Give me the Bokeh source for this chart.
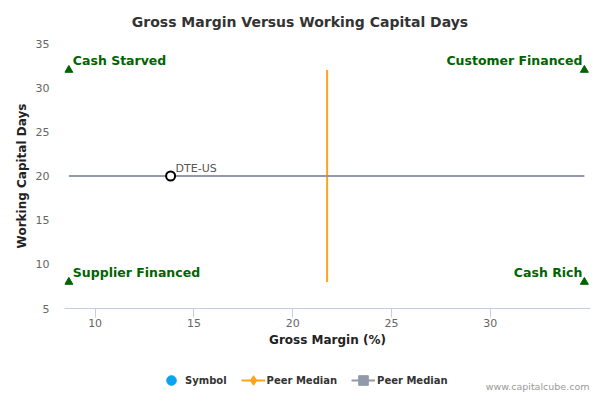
from bokeh.plotting import figure
from bokeh.layouts import column
from bokeh.models import (ColumnDataSource, Range1d, Legend, LegendItem, Label,
                          FixedTicker)
from bokeh.core.properties import value
from bokeh.embed import file_html
from bokeh.resources import INLINE

# ---- data ----
title_text = "Gross Margin Versus Working Capital Days"
x_title = "Gross Margin (%)"
y_title = "Working Capital Days"
quad_labels = ["Cash Starved", "Customer Financed", "Supplier Financed", "Cash Rich"]
quad_x = [8.67, 34.76, 8.67, 34.76]
quad_y = [32, 32, 8, 8]
symbol_names = ["DTE-US"]
symbol_gm = [13.82]
symbol_wcd = [20.0]
peer_median_gm = 21.74
peer_median_wcd = 20.0
x_ticks = [10, 15, 20, 25, 30]
y_ticks = [5, 10, 15, 20, 25, 30, 35]
x_limits = (8.45, 35.07)
y_limits = (5, 35)
legend_labels = ["Symbol", "Peer Median", "Peer Median"]
credit = "www.capitalcube.com"

FONT = "DejaVu Sans"
GREEN = "#006400"
ORANGE = "#ffa31a"
GREY = "#9299a8"
BLUE = "#0ba2f0"

W = 592


def blank_figure(height):
    fig = figure(width=W, height=height, output_backend="svg", toolbar_location=None,
                 title=None, x_range=Range1d(-2, -1), y_range=Range1d(-2, -1),
                 min_border_left=64, min_border_right=2, min_border_top=0,
                 min_border_bottom=0, outline_line_color=None)
    fig.axis.visible = False
    fig.grid.visible = False
    fig.background_fill_color = "white"
    fig.border_fill_color = "white"
    return fig


# ---- header with title ----
h = blank_figure(30)
h.add_layout(Label(x=235.5, y=8.3, x_units="screen", y_units="screen", text=title_text,
                   text_align="center", text_baseline="alphabetic",
                   text_font=FONT, text_font_size="14px", text_font_style="bold",
                   text_color="#333333"))

# ---- main plot ----
p = figure(width=W, height=325, output_backend="svg", toolbar_location=None,
           title=None, x_range=Range1d(*x_limits), y_range=Range1d(*y_limits),
           min_border_left=64, min_border_right=2, min_border_top=13,
           min_border_bottom=47, outline_line_color=None)
p.background_fill_color = "white"
p.border_fill_color = "white"
p.grid.visible = False

# x axis
xa = p.xaxis[0]
xa.ticker = FixedTicker(ticks=x_ticks)
xa.axis_line_color = "#c0d0e0"
xa.major_tick_line_color = "#c0d0e0"
xa.major_tick_out = 9
xa.major_tick_in = 0
xa.minor_tick_line_color = None
xa.major_label_text_font = FONT
xa.major_label_text_font_size = "11px"
xa.major_label_text_color = "#666666"
xa.major_label_standoff = 1
xa.axis_label = x_title
xa.axis_label_text_font = FONT
xa.axis_label_text_font_size = "12px"
xa.axis_label_text_font_style = "bold"
xa.axis_label_text_color = "#222222"
xa.axis_label_standoff = 3

# y axis
ya = p.yaxis[0]
ya.ticker = FixedTicker(ticks=y_ticks)
ya.axis_line_color = None
ya.major_tick_line_color = None
ya.minor_tick_line_color = None
ya.major_tick_out = 0
ya.major_tick_in = 0
ya.major_label_text_font = FONT
ya.major_label_text_font_size = "11px"
ya.major_label_text_color = "#666666"
ya.major_label_standoff = 15
ya.axis_label = y_title
ya.axis_label_text_font = FONT
ya.axis_label_text_font_size = "12px"
ya.axis_label_text_font_style = "bold"
ya.axis_label_text_color = "#222222"
ya.axis_label_standoff = 4

# peer median vertical line (orange)
vsrc = ColumnDataSource(dict(x=[peer_median_gm, peer_median_gm],
                             y=[min(quad_y), max(quad_y)]))
p.line("x", "y", source=vsrc, line_color=ORANGE, line_width=2)

# peer median horizontal line (grey)
hsrc = ColumnDataSource(dict(x=[min(quad_x), max(quad_x)],
                             y=[peer_median_wcd, peer_median_wcd]))
p.line("x", "y", source=hsrc, line_color=GREY, line_width=2)

# quadrant markers and labels
qsrc = ColumnDataSource(dict(x=quad_x, y=quad_y, label=quad_labels))
p.scatter("x", "y", source=qsrc, marker="triangle", size=8,
          fill_color=GREEN, line_color=GREEN)
left_src = ColumnDataSource(dict(x=[quad_x[0], quad_x[2]], y=[quad_y[0], quad_y[2]],
                                 label=[quad_labels[0], quad_labels[2]]))
right_src = ColumnDataSource(dict(x=[quad_x[1], quad_x[3]], y=[quad_y[1], quad_y[3]],
                                  label=[quad_labels[1], quad_labels[3]]))
p.text("x", "y", text="label", source=left_src, text_align="left",
       text_baseline="alphabetic", x_offset=4, y_offset=-10,
       text_font=value(FONT), text_font_size="12.5px", text_font_style="bold",
       text_color=GREEN)
p.text("x", "y", text="label", source=right_src, text_align="right",
       text_baseline="alphabetic", x_offset=-2, y_offset=-10,
       text_font=value(FONT), text_font_size="12.5px", text_font_style="bold",
       text_color=GREEN)

# symbol point
ssrc = ColumnDataSource(dict(x=symbol_gm, y=symbol_wcd, name=symbol_names))
p.scatter("x", "y", source=ssrc, marker="circle", size=9, line_width=2,
          line_color="black", fill_color="white")
p.text("x", "y", text="name", source=ssrc, text_align="left",
       text_baseline="alphabetic", x_offset=5, y_offset=-8,
       text_font=value(FONT), text_font_size="11px", text_color="#555555")

# ---- footer with legend and credit (series drawn out of its view range) ----
f = blank_figure(37)
r_sym = f.scatter("x", "y", source=ColumnDataSource(dict(x=symbol_gm, y=symbol_wcd)),
                  marker="circle", size=11, fill_color=BLUE, line_color=BLUE)
r_ol = f.line("x", "y", source=vsrc, line_color=ORANGE, line_width=2)
r_od = f.scatter("x", "y", source=vsrc, marker="diamond",
                 size=10, fill_color=ORANGE, line_color=ORANGE)
r_gl = f.line("x", "y", source=hsrc, line_color=GREY, line_width=2)
r_gs = f.scatter("x", "y", source=hsrc, marker="square",
                 size=8, fill_color=GREY, line_color=GREY)
legend = Legend(items=[LegendItem(label=legend_labels[0], renderers=[r_sym]),
                       LegendItem(label=legend_labels[1], renderers=[r_ol, r_od]),
                       LegendItem(label=legend_labels[2], renderers=[r_gl, r_gs])],
                orientation="horizontal", location=(95, 0),
                glyph_width=24, glyph_height=24, label_height=12,
                label_standoff=2, spacing=14, padding=0, margin=0,
                label_text_font=FONT, label_text_font_size="10px",
                label_text_font_style="bold", label_text_color="#333333",
                border_line_color=None, background_fill_alpha=0)
f.add_layout(legend, "center")

f.add_layout(Label(x=525, y=6, x_units="screen", y_units="screen", text=credit,
                   text_align="right", text_baseline="alphabetic",
                   text_font=FONT, text_font_size="9.5px", text_color="#999999"))

layout = column(h, p, f, spacing=0)
open("out.html", "w").write(file_html(layout, INLINE))
